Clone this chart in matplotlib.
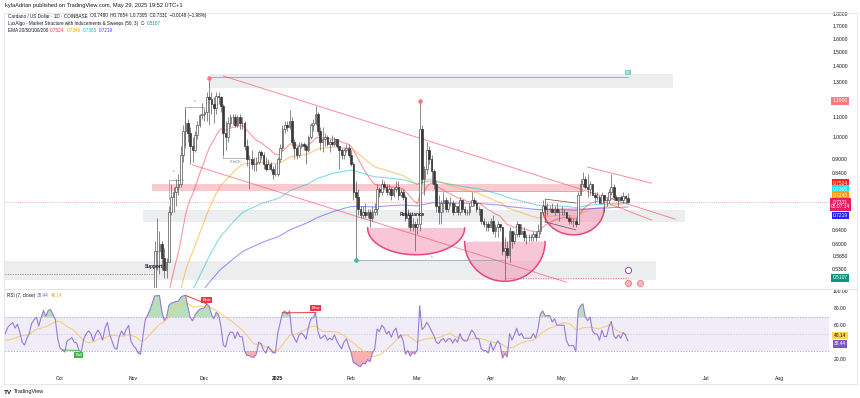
import numpy as np
import pandas as pd
import matplotlib
matplotlib.use("Agg")
import matplotlib.pyplot as plt
import matplotlib.dates as mdates
from matplotlib.lines import Line2D
from matplotlib.patches import Rectangle
from matplotlib.transforms import blended_transform_factory

plt.rcParams['font.family'] = ['Liberation Sans', 'DejaVu Sans']

# ---------------- data ----------------
early_start = "2024-08-15"
early_close = [  # Aug 15 - Oct 31 2024 (below visible price range, used for EMA / RSI)
    0.326, 0.331, 0.337, 0.340, 0.343, 0.350, 0.362, 0.366, 0.382, 0.392, 0.385, 0.370, 0.352, 0.358, 0.352, 0.345, 0.340,
    0.325, 0.335, 0.322, 0.330, 0.326, 0.318, 0.330, 0.337, 0.345, 0.349, 0.352, 0.347, 0.352, 0.345, 0.333,
    0.329, 0.335, 0.340, 0.352, 0.358, 0.362, 0.355, 0.368, 0.385, 0.380, 0.395, 0.398, 0.394, 0.390, 0.368,
    0.350, 0.345, 0.340, 0.352, 0.354, 0.356, 0.350, 0.349, 0.338, 0.336, 0.346, 0.351, 0.354, 0.352, 0.345,
    0.350, 0.354, 0.351, 0.346, 0.356, 0.362, 0.352, 0.345, 0.336, 0.334, 0.344, 0.350, 0.346, 0.352, 0.356, 0.340]

ohlc_start = "2024-11-01"
close_nov = [0.334, 0.330, 0.322, 0.320, 0.334, 0.360, 0.372, 0.390, 0.430, 0.580, 0.580, 0.600, 0.560, 0.530, 0.550,
             0.700, 0.750, 0.770, 0.790, 0.800, 0.920, 1.030, 1.070, 1.020, 0.960, 0.940, 1.010, 1.060, 1.110, 1.120]
high_nov = [0.345, 0.340, 0.332, 0.330, 0.340, 0.370, 0.380, 0.400, 0.440, 0.610, 0.680, 0.640, 0.610, 0.590, 0.560,
            0.720, 0.800, 0.790, 0.820, 0.840, 0.960, 1.060, 1.150, 1.090, 1.050, 1.000, 1.030, 1.080, 1.120, 1.180]
low_nov = [0.328, 0.325, 0.310, 0.315, 0.318, 0.330, 0.355, 0.370, 0.385, 0.420, 0.530, 0.520, 0.530, 0.510, 0.510,
           0.550, 0.690, 0.700, 0.720, 0.760, 0.790, 0.890, 0.960, 0.980, 0.880, 0.890, 0.930, 0.990, 1.050, 1.090]

close_dec = [1.130, 1.210, 1.200, 1.170, 1.150, 1.220, 1.210, 1.160, 1.020, 1.000, 1.070, 1.100, 1.100, 1.060, 1.100,
             1.070, 1.070, 0.960, 0.900, 0.900, 0.880, 0.880, 0.890, 0.930, 0.920, 0.880, 0.860, 0.880, 0.860, 0.840, 0.840]
high_dec = [1.150, 1.240, 1.330, 1.240, 1.210, 1.240, 1.240, 1.220, 1.170, 1.080, 1.100, 1.120, 1.120, 1.120, 1.110,
            1.120, 1.100, 1.080, 0.990, 0.920, 0.940, 0.910, 0.910, 0.940, 0.940, 0.930, 0.910, 0.900, 0.890, 0.870, 0.880]
low_dec = [1.080, 1.080, 1.060, 1.120, 1.070, 1.120, 1.170, 1.130, 0.920, 0.940, 0.980, 1.050, 1.060, 1.050, 1.050,
           1.040, 1.040, 0.940, 0.870, 0.780, 0.860, 0.850, 0.850, 0.880, 0.900, 0.860, 0.850, 0.860, 0.850, 0.820, 0.830]

close_jan = [0.900, 0.950, 1.040, 1.060, 1.050, 1.080, 0.980, 0.950, 0.920, 0.960, 0.970, 0.960, 0.940, 1.000, 1.060,
             1.070, 1.120, 1.030, 0.980, 0.990, 1.000, 0.970, 0.980, 0.970, 0.990, 0.960, 0.940, 0.920, 0.940, 0.950, 0.920]
high_jan = [0.910, 0.970, 1.060, 1.080, 1.080, 1.140, 1.100, 0.990, 0.960, 0.980, 0.980, 0.980, 0.970, 1.010, 1.070,
            1.090, 1.160, 1.130, 1.050, 1.050, 1.020, 1.010, 0.990, 1.010, 1.000, 0.990, 0.960, 0.950, 0.950, 0.970, 0.970]
low_jan = [0.830, 0.890, 0.940, 1.020, 1.030, 1.040, 0.960, 0.900, 0.900, 0.910, 0.950, 0.940, 0.880, 0.930, 0.990,
           1.030, 1.060, 1.010, 0.940, 0.930, 0.960, 0.960, 0.930, 0.960, 0.960, 0.950, 0.860, 0.900, 0.900, 0.930, 0.910]

close_feb = [0.880, 0.770, 0.750, 0.710, 0.690, 0.700, 0.690, 0.700, 0.680, 0.700, 0.710, 0.780, 0.770, 0.800,
             0.790, 0.770, 0.780, 0.760, 0.780, 0.790, 0.760, 0.770, 0.750, 0.680, 0.690, 0.650, 0.660, 0.650]
high_feb = [0.940, 0.890, 0.810, 0.780, 0.720, 0.720, 0.730, 0.710, 0.710, 0.720, 0.730, 0.800, 0.790, 0.820,
            0.810, 0.800, 0.800, 0.790, 0.790, 0.810, 0.810, 0.780, 0.780, 0.760, 0.710, 0.700, 0.680, 0.670]
low_feb = [0.870, 0.740, 0.556, 0.690, 0.680, 0.680, 0.680, 0.680, 0.650, 0.670, 0.690, 0.690, 0.750, 0.760,
           0.780, 0.760, 0.760, 0.740, 0.750, 0.770, 0.740, 0.750, 0.740, 0.670, 0.650, 0.640, 0.640, 0.580]

close_mar = [0.660, 1.040, 0.820, 0.860, 0.940, 0.900, 0.850, 0.800, 0.720, 0.700, 0.730, 0.740, 0.710, 0.730, 0.730,
             0.700, 0.720, 0.700, 0.740, 0.710, 0.700, 0.700, 0.720, 0.740, 0.730, 0.710, 0.710, 0.670, 0.660, 0.660, 0.650]
high_mar = [0.680, 1.190, 1.060, 0.870, 0.980, 0.960, 0.920, 0.860, 0.810, 0.760, 0.740, 0.770, 0.750, 0.740, 0.750,
            0.740, 0.730, 0.720, 0.750, 0.740, 0.720, 0.710, 0.730, 0.770, 0.750, 0.740, 0.720, 0.710, 0.680, 0.670, 0.670]
low_mar = [0.630, 0.640, 0.800, 0.760, 0.840, 0.880, 0.800, 0.780, 0.700, 0.660, 0.660, 0.700, 0.700, 0.700, 0.720,
           0.690, 0.700, 0.690, 0.690, 0.700, 0.690, 0.690, 0.690, 0.720, 0.720, 0.700, 0.690, 0.660, 0.650, 0.640, 0.640]

close_apr = [0.670, 0.640, 0.650, 0.660, 0.650, 0.580, 0.590, 0.570, 0.640, 0.610, 0.630, 0.660, 0.630, 0.640, 0.620,
             0.620, 0.620, 0.620, 0.630, 0.620, 0.640, 0.700, 0.720, 0.710, 0.710, 0.710, 0.700, 0.710, 0.700, 0.700]
high_apr = [0.680, 0.690, 0.660, 0.670, 0.660, 0.650, 0.620, 0.610, 0.650, 0.640, 0.640, 0.670, 0.660, 0.660, 0.650,
            0.630, 0.630, 0.630, 0.640, 0.640, 0.660, 0.700, 0.740, 0.720, 0.730, 0.720, 0.730, 0.720, 0.730, 0.710]
low_apr = [0.650, 0.630, 0.620, 0.620, 0.640, 0.570, 0.505, 0.560, 0.550, 0.590, 0.600, 0.620, 0.620, 0.630, 0.610,
           0.600, 0.610, 0.610, 0.610, 0.610, 0.620, 0.630, 0.690, 0.690, 0.690, 0.700, 0.700, 0.690, 0.700, 0.670]

close_may = [0.700, 0.700, 0.680, 0.670, 0.670, 0.670, 0.660, 0.760, 0.800, 0.820, 0.790, 0.780, 0.800, 0.760, 0.750,
             0.750, 0.730, 0.760, 0.740, 0.740, 0.770, 0.790, 0.750, 0.740, 0.750, 0.740, 0.755, 0.748, 0.7331]
high_may = [0.720, 0.710, 0.700, 0.690, 0.680, 0.680, 0.680, 0.770, 0.820, 0.845, 0.830, 0.840, 0.810, 0.800, 0.770,
            0.770, 0.760, 0.770, 0.760, 0.750, 0.780, 0.840, 0.800, 0.760, 0.750, 0.760, 0.770, 0.760, 0.7654]
low_may = [0.690, 0.690, 0.680, 0.660, 0.660, 0.650, 0.650, 0.660, 0.760, 0.790, 0.780, 0.750, 0.760, 0.760, 0.730,
           0.740, 0.730, 0.730, 0.700, 0.720, 0.730, 0.760, 0.740, 0.740, 0.720, 0.740, 0.730, 0.730, 0.7305]

close = close_nov + close_dec + close_jan + close_feb + close_mar + close_apr + close_may
high = high_nov + high_dec + high_jan + high_feb + high_mar + high_apr + high_may
low = low_nov + low_dec + low_jan + low_feb + low_mar + low_apr + low_may

ema_periods = [20, 50, 100, 200]
ema_seed = [0.340, 0.350, 0.375, 0.450]          # EMA values at Aug 15 2024
ema_colors = ['#f23645', '#ff9800', '#00bcd4', '#3a3aff']
ema_legend = ['0.7524', '0.7340', '0.7365', '0.7219']
rsi_legend = ('38.44', '48.14')
lux_value = 0.5107
sweep_level = 1.19
countdown = '05:07:14'

price_ticks = [1.8, 1.7, 1.6, 1.5, 1.4, 1.3, 1.1, 1.0, 0.9, 0.84, 0.64, 0.60, 0.565, 0.53]
rsi_ticks = [100, 80, 60, 20]
month_ticks = ['2024-10-01', '2024-11-01', '2024-12-01', '2025-01-01', '2025-02-01', '2025-03-01',
               '2025-04-01', '2025-05-01', '2025-06-01', '2025-07-01', '2025-08-01']
month_labels = ['Oct', 'Nov', 'Dec', '2025', 'Feb', 'Mar', 'Apr', 'May', 'Jun', 'Jul', 'Aug']

# zones: start, end, low, high
gray_zones = [('2024-12-03', '2025-06-17', 1.266, 1.354),
              ('2024-11-05', '2025-06-22', 0.667, 0.706),
              ('2024-09-01', '2025-06-10', 0.506, 0.553)]
pink_zone = ('2024-11-09', '2025-05-10', 0.774, 0.799)
# trend lines: start, p0, end, p1
red_lines = [('2024-12-09', 1.341, '2025-06-18', 0.676),
             ('2024-11-26', 0.876, '2025-05-03', 0.500),
             ('2025-05-12', 0.867, '2025-06-08', 0.803),
             ('2025-05-17', 0.741, '2025-06-08', 0.673)]
flag_lines = [('2025-04-24', 0.744, '2025-05-07', 0.730),
              ('2025-04-24', 0.667, '2025-05-07', 0.642)]
cups = [('2025-02-08', '2025-03-21', 0.648, 0.570),
        ('2025-03-21', '2025-04-24', 0.607, 0.502),
        ('2025-04-23', '2025-05-19', 0.713, 0.627)]
structure_lines = [('2024-11-23', 1.156, '2024-12-01', 1.156),
                   ('2024-11-23', 1.156, '2024-11-23', 0.95),
                   ('2024-12-09', 1.07, '2024-12-09', 0.905),
                   ('2024-12-09', 0.905, '2024-12-19', 0.905),
                   ('2024-11-16', 0.815, '2024-11-16', 0.743),
                   ('2024-11-16', 0.815, '2024-11-22', 0.815),
                   ('2025-02-03', 0.556, '2025-04-07', 0.556),
                   ('2025-03-09', 0.773, '2025-05-10', 0.773)]
structure_text = [('2024-11-27', 1.19, 'x'), ('2024-11-18', 0.85, 'x'),
                  ('2024-12-14', 0.89, 'CHoCH'), ('2025-03-07', 0.565, 'x')]
support_level = ('2024-11-10', 0.520)
resistance_text = ('2025-02-27', 0.690)
swing_high_dots = [('2024-12-03', 1.33), ('2025-03-02', 1.19)]
swing_low_dot = ('2025-02-03', 0.556)
top_line = ('2024-12-03', 1.334, '2025-05-29')
low_sweep_line = ('2025-04-07', '2025-05-29')

bear_divs = [('2024-11-23', '2024-12-02'), ('2025-01-03', '2025-01-17')]
bull_divs = [('2024-10-02', '2024-10-09')]

# ---------------- computations ----------------
d_early = pd.date_range(early_start, periods=len(early_close), freq='D')
d_ohlc = pd.date_range(ohlc_start, periods=len(close), freq='D')
idx_all = d_early.append(d_ohlc)
closes_all = pd.Series(early_close + close, index=idx_all)
opens = np.array([early_close[-1]] + close[:-1])
c = np.array(close); h = np.array(high); l = np.array(low)
x = mdates.date2num(d_ohlc.to_pydatetime())
x_all = mdates.date2num(idx_all.to_pydatetime())


def ema(vals, n, seed):
    a = 2.0 / (n + 1)
    out = []
    v = seed
    for p in vals:
        v = v + a * (p - v)
        out.append(v)
    return np.array(out)


emas = [ema(closes_all.values, n, s) for n, s in zip(ema_periods, ema_seed)]

delta = closes_all.diff().iloc[1:]
up = delta.clip(lower=0)
dn = (-delta).clip(lower=0)
rs = up.ewm(alpha=1 / 7, adjust=False).mean() / dn.ewm(alpha=1 / 7, adjust=False).mean()
rsi = 100 - 100 / (1 + rs)
rsi_ma = rsi.rolling(14).mean()
x_rsi = mdates.date2num(rsi.index.to_pydatetime())


def dn_(s):
    return mdates.date2num(pd.Timestamp(s).to_pydatetime())


# ---------------- figure ----------------
W, H = 860, 398
fig = plt.figure(figsize=(W / 100, H / 100), dpi=100)
fig.patch.set_facecolor('white')


def fx(px):
    return px / W


def fy(py):
    return 1 - py / H


ax = fig.add_axes([fx(5), fy(288), (829 - 5) / W, (288 - 13) / H])
axr = fig.add_axes([fx(5), fy(372), (829 - 5) / W, (372 - 289) / H])
base = dn_('2025-01-01')
for a in (ax, axr):
    a.set_xlim(base - 115.26, base + 233.0)
    a.axis('off')
ax.set_yscale('log')
ax.set_ylim(0.4862, 1.8124)
axr.set_ylim(5.51, 102.81)

# frame and separators
fig.add_artist(Rectangle((fx(4), fy(384)), (857 - 4) / W, (384 - 13) / H, transform=fig.transFigure,
                         fill=False, ec='#e0e3eb', lw=0.6))
fig.add_artist(Line2D([fx(4), fx(857)], [fy(288.6)] * 2, transform=fig.transFigure, color='#e0e3eb', lw=0.8))

# zones
for s, e, lo, hi in gray_zones:
    ax.fill_between([dn_(s), dn_(e)], lo, hi, color='#b2b5be', alpha=0.24, lw=0, zorder=0.5)
s, e, lo, hi = pink_zone
ax.fill_between([dn_(s), dn_(e)], lo, hi, color='#f7525f', alpha=0.3, lw=0, zorder=0.6)

# cups
for s, e, pt, pb in cups:
    x0, x1 = dn_(s), dn_(e)
    xc, a_ = (x0 + x1) / 2, (x1 - x0) / 2
    t = np.linspace(0, np.pi, 80)
    xs = xc + a_ * np.cos(t)
    ys = np.exp(np.log(pt) - (np.log(pt) - np.log(pb)) * np.sin(t))
    ax.fill(xs, ys, color='#f48fb1', alpha=0.5, lw=0, zorder=0.8)
    ax.plot(xs, ys, color='#e8467c', lw=1.1, zorder=0.9)

# horizontal helper lines
last_x = x[-1]
ax.axhline(close[-1], color='#f7525f', lw=0.6, ls=(0, (1, 1.5)), alpha=0.6, zorder=1)
ax.plot([dn_(top_line[0]), dn_(top_line[2])], [top_line[1]] * 2, color='#26a69a', lw=0.7, alpha=0.6, zorder=1)
ax.text(dn_(top_line[2]), top_line[1] * 1.012, '1D', fontsize=2.3, color='white', ha='center', va='bottom',
        bbox=dict(boxstyle='square,pad=0.2', fc='#80cbc4', ec='none'), zorder=5)
ax.plot([dn_(low_sweep_line[0]), dn_(low_sweep_line[1])], [lux_value] * 2, color='#f7525f', lw=0.6,
        ls=(0, (1.5, 1.5)), alpha=0.7, zorder=1)
ax.plot([base - 115.26, dn_(support_level[0])], [support_level[1]] * 2, color='#787b86', lw=0.5,
        ls=(0, (2, 1.5)), zorder=1)
ax.text(dn_(support_level[0]) + 3.5, support_level[1] * 1.022, 'Support', fontsize=3.4, fontweight='bold',
        color='#131722', ha='right', va='bottom', zorder=6)
ax.text(dn_(resistance_text[0]), resistance_text[1], 'Resistance', fontsize=3.4, fontweight='bold',
        color='#131722', ha='center', va='center', zorder=6)

for s, p0, e, p1 in red_lines:
    ax.plot([dn_(s), dn_(e)], [p0, p1], color='#f7525f', lw=0.7, alpha=0.65, zorder=1.2)
for s, p0, e, p1 in flag_lines:
    ax.plot([dn_(s), dn_(e)], [p0, p1], color='#555555', lw=0.5, zorder=1.2)
ax.plot([dn_(flag_lines[0][0])] * 2, [flag_lines[0][1], flag_lines[1][1]], color='#555555', lw=0.5, zorder=1.2)
for s, p0, e, p1 in structure_lines:
    ax.plot([dn_(s), dn_(e)], [p0, p1], color='#9598a1', lw=0.5, zorder=1.2)
for s, p, txt in structure_text:
    ax.text(dn_(s), p, txt, fontsize=2.4, color='#787b86', ha='center', va='center', zorder=6)

# EMAs
for e_, col in zip(emas, ema_colors):
    ax.plot(x_all, e_, color=col, lw=0.8, alpha=0.5, zorder=2)

# candles
upm = c >= opens
ax.vlines(x, l, h, color='#5a5a5a', lw=0.5, zorder=3)
ax.bar(x[upm], (c - opens)[upm], bottom=opens[upm], width=0.7, color='white', edgecolor='#555555',
       lw=0.5, zorder=3.2)
ax.bar(x[~upm], (opens - c)[~upm], bottom=c[~upm], width=0.7, color='#383838', edgecolor='#383838',
       lw=0.5, zorder=3.2)

for s, p in swing_high_dots:
    ax.plot(dn_(s), p, 'o', ms=2.3, color='#f77c80', zorder=5)
ax.plot(dn_(swing_low_dot[0]), swing_low_dot[1], 'o', ms=2.3, color='#4db6ac', zorder=5)

# event icons near the last bar
ax.plot(last_x, 0.530, 'o', ms=4.5, mfc='white', mec='#9c27b0', mew=0.6, zorder=6, clip_on=False)
ax.plot([last_x, last_x + 5], [0.497, 0.497], 'o', ms=4.5, mfc='#f9b4ba', mec='#f7525f', mew=0.4,
        zorder=6, clip_on=False)

# price scale
ytr = ax.get_yaxis_transform()
xs_lab = (840 - 5) / 824
for v in price_ticks:
    ax.text(xs_lab, v, f'{v:.4f}', transform=ytr, ha='center', va='center', fontsize=3.6,
            color='#131722', clip_on=False)


def tag(py, s, fc, tc='white', fs=3.5):
    fig.text(fx(840.5), fy(py), s, ha='center', va='center', fontsize=fs, color=tc, linespacing=1.0,
             bbox=dict(boxstyle='square,pad=0.28', fc=fc, ec='none'))


ax.text(xs_lab, sweep_level, f'{sweep_level:.4f}', transform=ytr, ha='center', va='center', fontsize=3.5,
        color='white', clip_on=False, bbox=dict(boxstyle='square,pad=0.28', fc='#f77c80', ec='none'))
tag(183, ema_legend[0], '#ff1f1f')
tag(189.3, ema_legend[2], '#1de9f6')
tag(195.6, ema_legend[1], '#ff9800')
tag(204.5, f'{close[-1]:.4f}\n{countdown}', '#e91e63')
tag(215.5, ema_legend[3], '#2424ff')
ax.text(xs_lab, lux_value, f'{lux_value:.4f}', transform=ytr, ha='center', va='center', fontsize=3.5,
        color='white', clip_on=False, bbox=dict(boxstyle='square,pad=0.28', fc='#089981', ec='none'))

# ---------------- RSI pane ----------------
axr.axhspan(30, 70, color='#7e57c2', alpha=0.1, lw=0, zorder=0)
for lv, al in ((70, 0.9), (50, 0.45), (30, 0.9)):
    axr.axhline(lv, color='#9a92b0', lw=0.5, ls=(0, (2, 2)), alpha=al, zorder=0.5)
rv = rsi.values
axr.fill_between(x_rsi, rv, 70, where=rv > 70, interpolate=True, color='#4caf50', alpha=0.4, lw=0, zorder=1)
axr.fill_between(x_rsi, rv, 30, where=rv < 30, interpolate=True, color='#f23645', alpha=0.4, lw=0, zorder=1)
axr.plot(x_rsi, rsi_ma.values, color='#f7c873', lw=0.8, alpha=0.9, zorder=2)
axr.plot(x_rsi, rv, color='#8c6fd6', lw=0.8, alpha=0.9, zorder=3)

for s, e in bear_divs:
    v0, v1 = rsi.loc[s], rsi.loc[e]
    axr.plot([dn_(s), dn_(e)], [v0, v1], color='#f23645', lw=0.7, zorder=4)
    axr.text(dn_(e), v1 + 2.5, 'Bear', fontsize=3.0, color='white', ha='center', va='bottom', zorder=5,
             bbox=dict(boxstyle='square,pad=0.25', fc='#f23645', ec='none'))
for s, e in bull_divs:
    v0, v1 = rsi.loc[s], rsi.loc[e]
    axr.plot([dn_(s), dn_(e)], [v0, v1], color='#4caf50', lw=0.7, zorder=4)
    axr.text(dn_(e), v1 - 2.5, 'Bull', fontsize=3.0, color='white', ha='center', va='top', zorder=5,
             bbox=dict(boxstyle='square,pad=0.25', fc='#4caf50', ec='none'))

ytr_r = axr.get_yaxis_transform()
for v in rsi_ticks:
    axr.text(xs_lab, v, f'{v:.2f}', transform=ytr_r, ha='center', va='center', fontsize=3.6,
             color='#131722', clip_on=False)
axr.text(xs_lab, float(rsi_legend[1]), rsi_legend[1], transform=ytr_r, ha='center', va='center', fontsize=3.5,
         color='#131722', clip_on=False, bbox=dict(boxstyle='square,pad=0.28', fc='#ffd54f', ec='none'))
axr.text(xs_lab, float(rsi_legend[0]), rsi_legend[0], transform=ytr_r, ha='center', va='center', fontsize=3.5,
         color='white', clip_on=False, bbox=dict(boxstyle='square,pad=0.28', fc='#7e57c2', ec='none'))

# time axis
btr = blended_transform_factory(axr.transData, fig.transFigure)
for d, lab in zip(month_ticks, month_labels):
    fig.text(dn_(d), fy(378.5), lab, transform=btr, ha='center', va='center', fontsize=3.6,
             color='#131722', fontweight='bold' if lab == '2025' else 'normal')

# ---------------- texts ----------------
renderer = fig.canvas.get_renderer()


def line_parts(px, py, parts, fs):
    cx = px
    for s, col in parts:
        t = fig.text(fx(cx), fy(py), s, fontsize=fs, color=col, ha='left', va='center')
        bb = t.get_window_extent(renderer=renderer)
        cx += bb.width + 2


fig.text(fx(5), fy(5.5), 'kylaAdrian published on TradingView.com, May 29, 2025 19:52 UTC+1', fontsize=4.1,
         color='#131722', ha='left', va='center')
line_parts(8, 16, [('Cardano / US Dollar · 1D · COINBASE', '#131722'),
                   ('O0.7480  H0.7654  L0.7305  C0.7331  \u22120.0148 (\u22121.98%)', '#131722')], 3.3)
line_parts(8, 23.5, [('LuxAlgo - Market Structure with Inducements & Sweeps (50, 3)  \u2205', '#131722'),
                     (f'{lux_value:.4f}', '#089981')], 3.3)
line_parts(8, 30.5, [('EMA 20/50/100/200', '#131722'), (ema_legend[0], ema_colors[0]),
                     (ema_legend[1], ema_colors[1]), (ema_legend[2], ema_colors[2]),
                     (ema_legend[3], ema_colors[3])], 3.3)
line_parts(7, 295.5, [('RSI (7, close)', '#131722'), (rsi_legend[0], '#7e57c2'),
                      (rsi_legend[1], '#e0a800')], 3.3)

fig.text(fx(4), fy(392), 'TV', fontsize=4.6, fontweight='bold', color='#131722', ha='left', va='center')
fig.text(fx(13.5), fy(392), 'TradingView', fontsize=4.0, color='#131722', ha='left', va='center')

fig.savefig('out.png', dpi=100)
